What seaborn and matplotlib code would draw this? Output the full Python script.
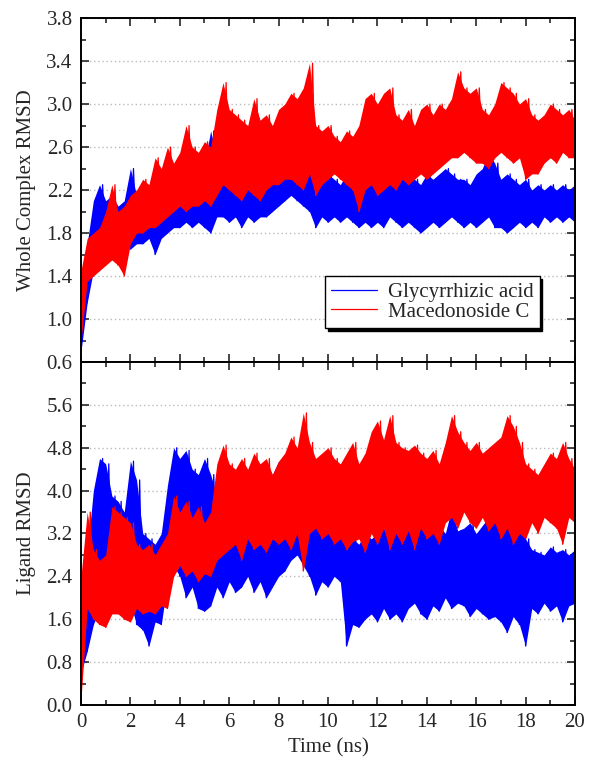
import numpy as np
import pandas as pd
import matplotlib
matplotlib.use("Agg")
import matplotlib.pyplot as plt
from matplotlib.ticker import MultipleLocator
import seaborn as sns

# sampling times (ns) of the envelope values
time = np.arange(0, 20.01, 0.25)

# Whole complex RMSD, Glycyrrhizic acid: low / high edge of the noisy trace
gly_top_lo = [0.70, 1.15, 1.45, 1.55, 1.60, 1.55, 1.65, 1.70, 1.65, 1.70, 1.70, 1.75,
              1.60, 1.75, 1.80, 1.85, 1.85, 1.90, 1.85, 1.90, 1.85, 1.80, 1.95, 1.95,
              1.90, 1.95, 1.85, 1.95, 1.90, 1.95, 1.95, 2.00, 2.05, 2.10, 2.15, 2.10,
              2.05, 2.00, 1.85, 1.95, 1.90, 1.95, 1.90, 1.95, 1.90, 1.85, 1.90, 1.85,
              1.90, 1.85, 1.95, 1.90, 1.85, 1.90, 1.85, 1.80, 1.85, 1.90, 1.85, 1.90,
              1.95, 1.90, 1.85, 1.90, 1.85, 1.90, 1.95, 1.85, 1.85, 1.80, 1.85, 1.90,
              1.85, 1.90, 1.85, 1.95, 1.90, 1.95, 1.90, 1.95, 1.90]
gly_top_hi = [1.30, 1.70, 2.10, 2.25, 2.10, 2.15, 2.05, 2.10, 2.40, 2.15, 2.20, 2.15,
              2.20, 2.25, 2.20, 2.35, 2.30, 2.35, 2.30, 2.40, 2.45, 2.75, 2.50, 2.45,
              2.40, 2.45, 2.40, 2.50, 2.45, 2.55, 2.50, 2.45, 2.50, 2.45, 2.50, 2.40,
              2.55, 2.70, 2.55, 2.40, 2.35, 2.30, 2.25, 2.35, 2.30, 2.25, 2.30, 2.25,
              2.30, 2.25, 2.30, 2.25, 2.30, 2.35, 2.30, 2.25, 2.35, 2.30, 2.35, 2.40,
              2.35, 2.30, 2.30, 2.25, 2.35, 2.40, 2.55, 2.45, 2.30, 2.35, 2.30, 2.25,
              2.30, 2.20, 2.25, 2.20, 2.25, 2.20, 2.25, 2.20, 2.25]

# Whole complex RMSD, Macedonoside C
mac_top_lo = [0.80, 1.35, 1.40, 1.45, 1.50, 1.55, 1.50, 1.40, 1.70, 1.80, 1.80, 1.85,
              1.85, 1.90, 1.95, 2.00, 2.05, 2.00, 2.05, 2.05, 2.10, 2.05, 2.15, 2.25,
              2.20, 2.15, 2.10, 2.20, 2.15, 2.10, 2.20, 2.25, 2.25, 2.30, 2.30, 2.25,
              2.20, 2.35, 2.15, 2.25, 2.30, 2.35, 2.30, 2.25, 2.20, 2.00, 2.20, 2.25,
              2.15, 2.20, 2.25, 2.20, 2.30, 2.25, 2.30, 2.35, 2.30, 2.35, 2.40, 2.45,
              2.50, 2.50, 2.55, 2.50, 2.45, 2.45, 2.40, 2.50, 2.55, 2.50, 2.45, 2.50,
              2.30, 2.35, 2.35, 2.45, 2.50, 2.45, 2.55, 2.50, 2.50]
mac_top_hi = [1.45, 1.75, 1.80, 1.85, 2.00, 2.25, 2.00, 2.05, 2.15, 2.20, 2.30, 2.25,
              2.50, 2.40, 2.60, 2.45, 2.55, 2.80, 2.60, 2.55, 2.65, 2.60, 2.95, 3.20,
              2.95, 2.90, 2.85, 2.80, 3.05, 2.85, 2.90, 2.80, 2.95, 3.00, 3.10, 3.05,
              3.15, 3.38, 2.80, 2.75, 2.80, 2.70, 2.65, 2.75, 2.70, 2.80, 3.05, 3.10,
              3.00, 3.10, 3.15, 2.90, 2.85, 2.95, 2.80, 2.95, 3.00, 2.90, 3.00, 2.95,
              3.05, 3.30, 3.15, 3.10, 3.15, 2.95, 2.90, 3.00, 3.20, 3.15, 3.10, 3.00,
              3.05, 2.90, 2.85, 2.90, 3.00, 2.95, 2.90, 2.95, 2.85]

# Ligand RMSD, Glycyrrhizic acid
gly_lig_lo = [0.60, 1.00, 1.50, 1.80, 1.70, 2.00, 2.10, 2.00, 1.90, 1.50, 1.40, 1.10,
              1.55, 1.50, 2.30, 2.60, 2.40, 2.00, 2.20, 1.80, 1.75, 1.85, 2.20, 2.00,
              2.30, 2.10, 2.20, 2.40, 2.10, 2.30, 2.00, 2.20, 2.40, 2.50, 2.70, 2.80,
              2.60, 2.40, 2.05, 2.30, 2.20, 2.40, 2.30, 1.10, 1.50, 1.45, 1.60, 1.70,
              1.55, 1.80, 1.60, 1.70, 1.55, 1.80, 1.90, 1.70, 1.60, 1.85, 1.75, 2.00,
              1.80, 1.90, 1.85, 1.65, 1.80, 1.70, 1.60, 1.65, 1.55, 1.35, 1.65, 1.50,
              1.10, 1.80, 1.70, 1.90, 1.75, 1.85, 1.55, 1.85, 1.90]
gly_lig_hi = [1.40, 2.80, 4.00, 4.60, 4.50, 3.90, 3.80, 3.60, 4.55, 4.20, 3.20, 3.10,
              3.00, 3.20, 4.10, 4.80, 4.60, 4.75, 4.40, 4.30, 4.60, 4.30, 3.90, 3.80,
              3.90, 3.85, 3.90, 4.20, 4.50, 4.20, 4.40, 4.30, 4.55, 4.20, 4.60, 4.40,
              4.30, 4.50, 4.35, 4.20, 3.90, 3.70, 3.40, 2.90, 3.10, 3.00, 3.20, 3.10,
              3.20, 3.30, 3.10, 3.25, 3.20, 3.40, 3.65, 3.30, 3.40, 3.25, 3.35, 3.20,
              3.65, 3.25, 3.30, 3.40, 3.20, 3.35, 3.50, 3.65, 3.40, 3.60, 3.35, 3.50,
              3.10, 2.90, 2.85, 2.80, 2.95, 2.85, 2.90, 2.80, 2.90]

# Ligand RMSD, Macedonoside C
mac_lig_lo = [0.10, 1.80, 1.60, 1.50, 1.45, 1.70, 1.70, 1.60, 1.55, 1.80, 1.70, 1.75,
              1.70, 1.85, 1.80, 2.40, 2.60, 2.40, 2.50, 2.30, 2.45, 2.40, 2.70, 2.80,
              2.90, 3.00, 2.70, 3.10, 2.90, 3.00, 2.85, 3.10, 3.00, 3.10, 2.90, 3.20,
              2.50, 3.20, 3.30, 3.10, 3.20, 3.00, 3.10, 2.90, 3.05, 3.10, 2.85, 3.20,
              3.00, 3.30, 2.90, 3.20, 3.00, 3.25, 2.90, 3.30, 3.10, 3.20, 3.00, 3.40,
              3.50, 3.30, 3.60, 3.40, 3.30, 3.50, 3.25, 3.40, 3.10, 3.30, 3.00, 3.20,
              3.10, 3.40, 3.20, 3.50, 3.40, 3.30, 3.00, 3.50, 3.40]
mac_lig_hi = [2.40, 3.60, 2.90, 2.70, 2.80, 3.70, 3.60, 3.50, 3.40, 3.00, 2.90, 3.00,
              2.80, 3.00, 3.20, 3.90, 3.60, 3.80, 3.50, 3.70, 3.40, 3.60, 4.50, 4.85,
              4.50, 4.40, 4.60, 4.40, 4.70, 4.50, 4.60, 4.30, 4.55, 4.70, 5.00, 4.80,
              5.45, 4.90, 4.60, 4.70, 4.80, 4.60, 4.50, 4.70, 4.90, 4.50, 4.70, 5.10,
              5.30, 4.95, 5.40, 4.90, 4.80, 4.75, 4.85, 4.70, 4.60, 4.75, 4.50, 4.90,
              5.40, 5.10, 4.90, 4.75, 4.90, 4.70, 4.80, 4.90, 5.00, 5.40, 5.20, 4.90,
              4.50, 4.40, 4.30, 4.50, 4.70, 4.60, 4.90, 4.60, 4.40]

names = ["Glycyrrhizic acid", "Macedonoside C"]
colors = {"Glycyrrhizic acid": "#0000ff", "Macedonoside C": "#ff0000"}
FS = 15


def trace(lo, hi, name):
    # alternate low and high readings so the line zig-zags through the band
    t = np.column_stack([time, time + 0.125]).ravel()
    v = np.column_stack([lo, hi]).ravel()
    return pd.DataFrame({"Time": t, "RMSD": v, "Molecule": name})


panels = [
    [(gly_top_lo, gly_top_hi), (mac_top_lo, mac_top_hi)],
    [(gly_lig_lo, gly_lig_hi), (mac_lig_lo, mac_lig_hi)],
]

sns.set_style("ticks")
plt.rcParams["font.family"] = ["Liberation Serif", "DejaVu Serif"]

fig = plt.figure(figsize=(5.89, 7.61), dpi=100)
ax1 = fig.add_axes([0.1375, 0.5243, 0.8387, 0.4520])
ax2 = fig.add_axes([0.1375, 0.0736, 0.8387, 0.4507])

for ax, series in zip([ax1, ax2], panels):
    ax.grid(axis="y", which="major", color="#bbbbbb", ls=(0, (1, 2)), lw=1)
    ax.set_axisbelow(True)
    for k, ((lo, hi), name) in enumerate(zip(series, names)):
        # dense core of the trajectory band, then the jagged trace on top;
        # the second molecule is drawn over the first one
        ax.fill_between(time, lo, hi, color=colors[name], lw=0, zorder=2 + k)
        sns.lineplot(data=trace(lo, hi, name), x="Time", y="RMSD", color=colors[name],
                     estimator=None, sort=False, lw=0.9, ax=ax, label=name,
                     zorder=2.5 + k)
    ax.set_xlim(0, 20)
    ax.xaxis.set_major_locator(MultipleLocator(2))
    ax.xaxis.set_minor_locator(MultipleLocator(1))
    ax.tick_params(which="both", direction="in", top=True, right=True,
                   labelsize=FS, width=1.2, pad=6)
    ax.tick_params(which="major", length=6)
    ax.tick_params(which="minor", length=3.5)
    for s in ax.spines.values():
        s.set_linewidth(1.4)
        s.set_color("black")
        s.set_zorder(10)
    ax.yaxis.set_label_coords(-0.092, 0.5)

ax1.set_ylim(0.6, 3.8)
ax1.set_yticks(np.arange(0.6, 3.81, 0.4))
ax1.yaxis.set_minor_locator(MultipleLocator(0.2))
ax1.tick_params(labelbottom=False)
ax1.set_xlabel("")
ax1.set_ylabel("Whole Complex RMSD", fontsize=FS)

ax2.set_ylim(0, 6.4)
ax2.set_yticks(np.arange(0, 5.61, 0.8))
ax2.yaxis.set_minor_locator(MultipleLocator(0.4))
ax2.set_xlabel("Time (ns)", fontsize=FS)
ax2.set_ylabel("Ligand RMSD", fontsize=FS)
ax2.get_legend().remove()

handles, labels = ax1.get_legend_handles_labels()
leg = ax1.legend(handles, labels, loc="lower left", bbox_to_anchor=(0.494, 0.099),
                 frameon=True, fancybox=False, shadow={"color": "black", "alpha": 1},
                 fontsize=FS, handlelength=2.2, handletextpad=0.5, borderpad=0.3,
                 labelspacing=0.0, borderaxespad=0)
leg.get_frame().set_edgecolor("black")
leg.get_frame().set_linewidth(1.0)
leg.set_zorder(20)

fig.savefig("out.png", dpi=100)
